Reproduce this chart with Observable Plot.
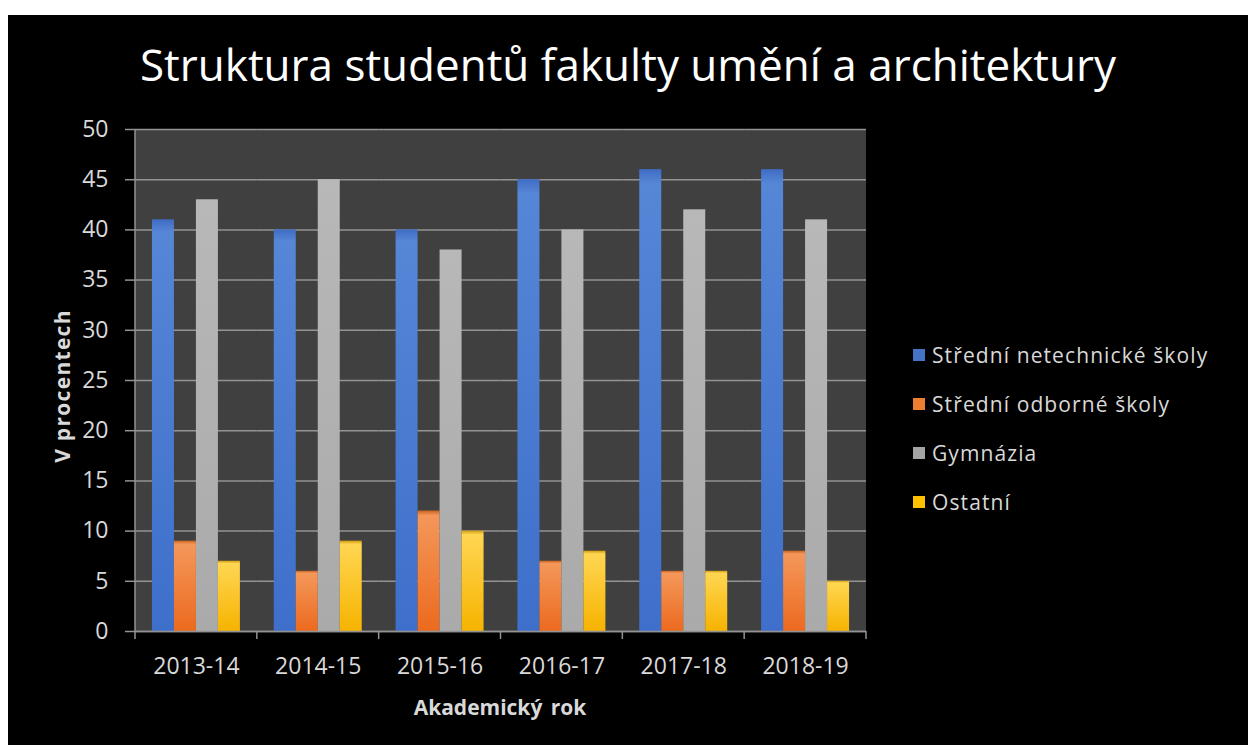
<!DOCTYPE html>
<html>
<head>
<meta charset="utf-8">
<script src="https://cdn.jsdelivr.net/npm/d3@7"></script>
<script src="https://cdn.jsdelivr.net/npm/@observablehq/plot@0.6"></script>
<style>
html,body{margin:0;padding:0;background:#fff;}
#card{position:absolute;left:8px;top:15px;width:1240px;height:730px;background:#000;overflow:hidden;font-family:"Open Sans",sans-serif;}
#title{position:absolute;left:0;width:1240px;top:27px;text-align:center;color:#fff;font-family:"Open Sans",sans-serif;font-size:44px;line-height:1;white-space:nowrap;}
#chart{position:absolute;left:0;top:0;}
.atitle{position:absolute;color:#d9d9d9;font-weight:bold;font-size:21px;white-space:nowrap;line-height:1;}
#ylab{left:54px;top:371px;transform:translate(-50%,-50%) rotate(-90deg);letter-spacing:1.3px;}
#xlab{left:492px;top:692px;transform:translate(-50%,-50%);word-spacing:3px;}
#legend{position:absolute;left:905px;top:327px;color:#d9d9d9;font-size:21px;letter-spacing:1.1px;}
.item{display:flex;align-items:center;height:26px;margin-bottom:23px;white-space:nowrap;}
.sw{width:12px;height:12px;margin-right:7px;flex:none;}
</style>
</head>
<body>
<svg width="0" height="0" style="position:absolute">
  <defs>
    <linearGradient id="g0" x1="0" y1="0" x2="0" y2="1"><stop offset="0" stop-color="#3f6cc4"/><stop offset="0.03" stop-color="#5686d6"/><stop offset="1" stop-color="#3e6fcb"/></linearGradient>
    <linearGradient id="g1" x1="0" y1="0" x2="0" y2="1"><stop offset="0" stop-color="#c8621e"/><stop offset="0.04" stop-color="#f4975a"/><stop offset="1" stop-color="#ec6a1e"/></linearGradient>
    <linearGradient id="g2" x1="0" y1="0" x2="0" y2="1"><stop offset="0" stop-color="#b8b8b8"/><stop offset="1" stop-color="#aaaaaa"/></linearGradient>
    <linearGradient id="g3" x1="0" y1="0" x2="0" y2="1"><stop offset="0" stop-color="#d09a10"/><stop offset="0.04" stop-color="#ffd652"/><stop offset="1" stop-color="#f6b300"/></linearGradient>
  </defs>
</svg>
<div id="card">
  <div id="title">Struktura studentů fakulty umění a architektury</div>
  <div id="chart"></div>
  <div class="atitle" id="ylab">V procentech</div>
  <div class="atitle" id="xlab">Akademický rok</div>
  <div id="legend"></div>
</div>
<script>
const years = ["2013-14", "2014-15", "2015-16", "2016-17", "2017-18", "2018-19"];
const series = ["Střední netechnické školy", "Střední odborné školy", "Gymnázia", "Ostatní"];
const netechnicke = [41, 40, 40, 45, 46, 46];
const odborne = [9, 6, 12, 7, 6, 8];
const gymnazia = [43, 45, 38, 40, 42, 41];
const ostatni = [7, 9, 10, 8, 6, 5];
const yTicks = [0, 5, 10, 15, 20, 25, 30, 35, 40, 45, 50];
const barFills = ["url(#g0)", "url(#g1)", "url(#g2)", "url(#g3)"];
const legendColors = ["#4472c4", "#ed7d31", "#a5a5a5", "#ffc000"];

const seriesValues = [netechnicke, odborne, gymnazia, ostatni];
const data = years.flatMap((year, i) => series.map((s, j) => ({year, series: s, value: seriesValues[j][i]})));

const axisGray = "#939393";
const chart = Plot.plot({
  width: 1240,
  height: 730,
  marginLeft: 127,
  marginRight: 382,
  marginTop: 114,
  marginBottom: 114,
  style: {background: "transparent", color: "#d9d9d9", fontFamily: "Open Sans, sans-serif", fontSize: "23px"},
  fx: {domain: years, padding: 0, round: false, label: null},
  x: {domain: series, paddingInner: 0, paddingOuter: 0.77, round: false, axis: null, label: null},
  y: {domain: [0, 50], label: null},
  color: {domain: series, range: barFills},
  marks: [
    Plot.gridY(yTicks, {stroke: axisGray, strokeOpacity: 1, strokeWidth: 1.5}),
    Plot.barY(data, {fx: "year", x: "series", y: "value", fill: "series"}),
    Plot.ruleY([0], {stroke: axisGray, strokeWidth: 1.5}),
    Plot.axisY(yTicks, {tickSize: 10, tickPadding: 17, stroke: axisGray, strokeWidth: 1.5, fill: "#d9d9d9", label: null}),
    Plot.axisFx({anchor: "bottom", tickSize: 0, tickPadding: 26, fill: "#d9d9d9", label: null})
  ]
});
document.getElementById("chart").appendChild(chart);

// plot-area background, y axis line and category boundary ticks, placed from Plot's own scales
const fx = chart.scale("fx"), y = chart.scale("y");
const svg = d3.select(chart);
const edges = years.map(d => fx.apply(d)).concat([fx.apply(years[years.length - 1]) + fx.bandwidth]);
svg.insert("rect", ":first-child")
  .attr("x", edges[0]).attr("y", y.apply(50))
  .attr("width", edges[edges.length - 1] - edges[0]).attr("height", y.apply(0) - y.apply(50))
  .attr("fill", "#404040");
const g = svg.append("g").attr("stroke", axisGray).attr("stroke-width", 1.5);
g.append("line").attr("x1", edges[0]).attr("x2", edges[0]).attr("y1", y.apply(50)).attr("y2", y.apply(0));
g.selectAll("line.edge").data(edges).join("line").attr("class", "edge")
  .attr("x1", d => d).attr("x2", d => d).attr("y1", y.apply(0)).attr("y2", y.apply(0) + 8);

// legend
const legend = d3.select("#legend");
series.forEach((s, i) => {
  const it = legend.append("div").attr("class", "item");
  it.append("div").attr("class", "sw").style("background", legendColors[i]);
  it.append("span").text(s);
});
</script>
</body>
</html>
